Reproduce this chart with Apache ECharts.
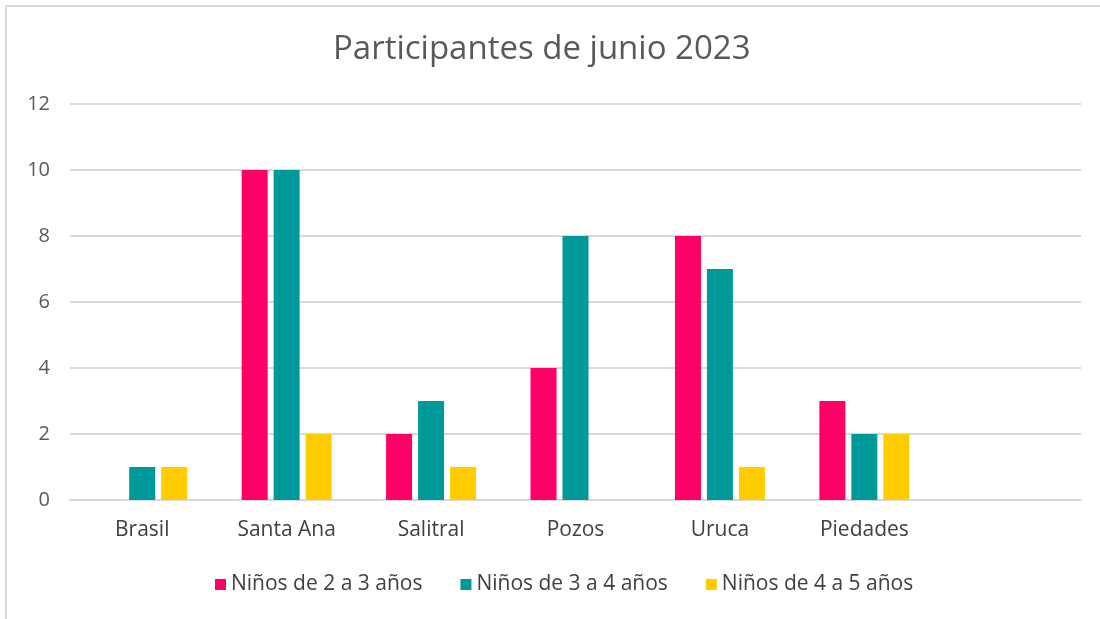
<!DOCTYPE html>
<html>
<head>
<meta charset="utf-8">
<script src="https://cdn.jsdelivr.net/npm/echarts@6/dist/echarts.min.js"></script>
<style>html,body{margin:0;padding:0;background:#fff}#c{width:1100px;height:619px}</style>
</head>
<body>
<div id="c"></div>
<script>
const categories = ['Brasil', 'Santa Ana', 'Salitral', 'Pozos', 'Uruca', 'Piedades', ''];
const seriesNames = ['Niños de 2 a 3 años', 'Niños de 3 a 4 años', 'Niños de 4 a 5 años'];
const ninos23 = [0, 10, 2, 4, 8, 3, null];
const ninos34 = [1, 10, 3, 8, 7, 2, null];
const ninos45 = [1, 2, 1, 0, 1, 2, null];
const colors = ['#FF0066', '#009999', '#FFCC00'];
const yTicks = {min: 0, max: 12, interval: 2};

const chart = echarts.init(document.getElementById('c'), null, {renderer: 'canvas'});
const font = '"Open Sans", "Noto Sans", sans-serif';
const mk = (name, data, color) => ({
  name, type: 'bar', data, barWidth: 26, barGap: '23%',
  itemStyle: {color}
});
chart.setOption({
  animation: false,
  title: {
    text: 'Participantes de junio 2023', left: 328, top: 28,
    textStyle: {fontFamily: font, fontSize: 33, fontWeight: 'normal', color: '#595959'}
  },
  legend: {
    bottom: 19, left: 210, itemWidth: 11, itemHeight: 11, itemGap: 38,
    icon: 'rect',
    textStyle: {fontFamily: font, fontSize: 21, color: '#404040'},
    data: seriesNames
  },
  grid: {left: 70, right: 19, top: 104, bottom: 119, containLabel: false},
  xAxis: {
    type: 'category', data: categories,
    axisLine: {lineStyle: {color: '#d9d9d9', width: 2}},
    axisTick: {show: false},
    axisLabel: {fontFamily: font, fontSize: 21, color: '#404040', margin: 20}
  },
  yAxis: {
    type: 'value', min: yTicks.min, max: yTicks.max, interval: yTicks.interval,
    axisLine: {show: false}, axisTick: {show: false},
    splitLine: {lineStyle: {color: '#d9d9d9', width: 2}},
    axisLabel: {fontFamily: font, fontSize: 20, color: '#595959', margin: 20}
  },
  series: [
    mk(seriesNames[0], ninos23, colors[0]),
    mk(seriesNames[1], ninos34, colors[1]),
    mk(seriesNames[2], ninos45, colors[2])
  ],
  graphic: [
    {type: 'line', shape: {x1: 6, y1: 6, x2: 1100, y2: 6}, style: {stroke: '#d9d9d9', lineWidth: 2}},
    {type: 'line', shape: {x1: 6, y1: 6, x2: 6, y2: 619}, style: {stroke: '#d9d9d9', lineWidth: 2}}
  ]
});
</script>
</body>
</html>
